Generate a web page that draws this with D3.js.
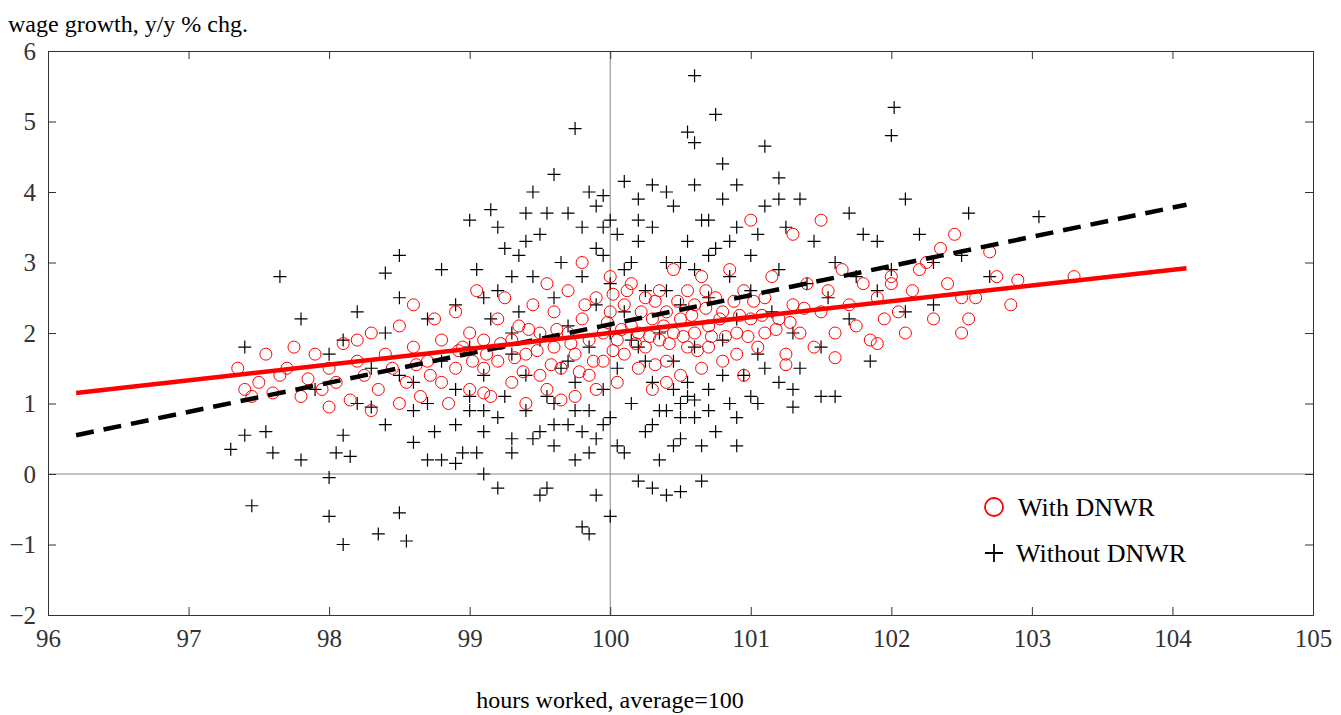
<!DOCTYPE html>
<html><head><meta charset="utf-8">
<script src="https://cdn.jsdelivr.net/npm/d3@7/dist/d3.min.js"></script>
<style>body{margin:0;background:#fff}text{font-family:"Liberation Serif","Times New Roman",serif}</style>
</head><body><svg id="c" width="1341" height="715"></svg>
<script>
// points: [hours, wage growth]
const withoutDNWR = [
[97.3,0.35],[97.4,0.55],[97.45,-0.45],[97.55,0.6],[97.6,0.3],[97.65,2.8],[97.4,1.8],[97.8,0.2],[97.8,2.2],[98.0,-0.05],[98.0,-0.6],[98.1,-1.0],[98.05,0.3],[98.15,0.25],[98.1,0.55],[98.35,-0.85],[98.5,-0.55],[98.55,-0.95],[98.4,2.85],[98.5,3.1],[98.3,0.95],[98.6,0.45],[98.7,0.2],[98.8,0.2],[98.9,0.15],[98.95,0.3],[99.1,0.0],[99.0,3.6],[99.15,3.75],[99.2,-0.2],[99.3,0.3],[99.35,3.1],[99.4,3.7],[99.45,4.0],[99.5,-0.3],[99.55,-0.2],[99.6,4.25],[99.7,3.7],[99.75,4.9],[99.8,-0.75],[99.85,-0.85],[99.9,-0.3],[100.0,-0.6],[99.95,3.95],[100.1,4.15],[100.2,-0.1],[100.3,-0.2],[100.4,-0.3],[100.5,-0.25],[100.55,4.85],[100.6,5.65],[100.6,4.7],[100.65,-0.1],[100.75,5.1],[100.8,4.4],[101.1,4.65],[101.2,4.2],[101.35,3.9],[101.7,3.7],[101.9,3.3],[102.0,4.8],[102.02,5.2],[102.1,3.9],[102.2,3.4],[102.55,3.7],[103.05,3.65],[101.6,1.1],[101.3,0.95],[101.0,1.1],[100.9,0.4],[102.3,2.4],[101.85,1.6],
[98.6,1.3],[98.7,1.0],[98.8,1.6],[98.9,1.2],[98.9,2.4],[99.0,0.9],[99.0,1.8],[99.05,2.9],[99.1,0.6],[99.1,1.4],[99.15,2.2],[99.2,0.8],[99.2,2.6],[99.25,1.1],[99.25,3.2],[99.3,0.5],[99.3,1.7],[99.35,2.3],[99.4,0.9],[99.4,1.4],[99.45,2.8],[99.5,0.6],[99.5,1.9],[99.5,3.4],[99.55,1.1],[99.6,0.4],[99.6,2.5],[99.65,1.5],[99.65,3.0],[99.7,0.7],[99.7,2.1],[99.75,0.2],[99.75,1.3],[99.8,2.8],[99.8,3.5],[99.85,0.9],[99.85,1.8],[99.9,0.5],[99.9,2.4],[99.9,3.8],[99.95,1.2],[99.95,3.1],[100.0,0.8],[100.0,2.0],[100.0,2.7],[100.05,1.5],[100.05,3.4],[100.1,0.3],[100.1,2.3],[100.15,1.0],[100.15,3.0],[100.2,1.8],[100.2,3.9],[100.25,0.6],[100.25,2.6],[100.3,1.3],[100.3,3.5],[100.35,0.2],[100.35,2.0],[100.4,0.9],[100.4,3.0],[100.45,1.6],[100.45,3.8],[100.5,0.5],[100.5,2.4],[100.5,1.0],[100.55,3.3],[100.6,0.8],[100.6,1.8],[100.6,2.9],[100.65,3.6],[100.7,1.2],[100.7,2.5],[100.75,0.6],[100.75,3.2],[100.8,1.9],[100.8,3.9],[100.85,1.0],[100.85,2.8],[100.9,2.2],[100.9,3.5],[100.95,1.4],[101.0,2.6],[101.0,3.1],[101.05,1.7],[101.1,3.8],[101.15,2.3],[101.2,1.3],[101.2,2.9],[101.25,3.5],[101.3,2.0],[101.35,1.5],[101.4,2.7],[101.45,3.3],[101.5,1.8],[101.55,2.5],[101.6,3.0],[101.7,2.2],[101.75,2.8],[101.8,3.4],[101.9,2.6],[102.0,2.9],[102.1,2.3],[102.3,3.0],[102.5,3.1],[102.7,2.8],[97.9,1.2],[98.0,1.7],[98.1,1.9],[98.2,1.0],[98.2,2.3],[98.3,1.5],[98.4,0.7],[98.4,2.0],[98.5,1.4],[98.5,2.5],[98.6,0.9],[98.7,2.2],[98.75,0.6],[98.8,2.9],[99.0,1.1],[99.05,0.3],[99.1,2.5],[99.3,2.0],[99.4,3.3],[99.45,0.5],[99.6,1.0],[99.7,1.6],[99.8,0.6],[99.95,0.7],[100.05,0.4],[100.15,1.9],[100.25,1.6],[100.35,0.9],[100.45,0.4],[100.55,1.3],[100.65,0.4],[100.7,0.9],[100.8,1.4],[100.9,0.8],[101.05,1.0],[101.1,1.5],[101.3,1.2],[101.5,1.1],[100.3,4.1],[100.0,3.6],[99.85,4.0],[100.4,4.0],[100.6,4.1],[100.9,4.1],[101.2,3.9],[100.7,3.6],[99.3,2.8],[99.55,3.7],[99.2,3.5],
[99.9,3.2],[100.1,2.9],[100.2,3.3],[100.4,2.6],[100.5,3.0],[100.7,3.1],[100.3,0.7],[100.5,0.8],[100.55,1.1],[100.6,1.05],[100.45,1.2],[99.75,0.9],[99.85,0.3],[99.6,0.7],[99.1,0.9],[98.9,0.7],[99.95,3.5],[100.2,3.6],[100.85,3.3],[101.05,3.4]
];
const withDNWR = [
[97.35,1.5],[97.4,1.2],[97.45,1.1],[97.5,1.3],[97.55,1.7],[97.6,1.15],[97.7,1.5],[97.75,1.8],[97.8,1.1],[97.85,1.35],[97.9,1.7],[97.95,1.2],[98.0,1.5],[98.0,0.95],[98.05,1.3],[98.1,1.85],[98.15,1.05],[98.2,1.6],[98.25,1.4],[98.3,2.0],[98.3,0.9],[98.35,1.2],[98.4,1.7],[98.45,1.5],[98.5,2.1],[98.5,1.0],[98.55,1.3],[98.6,1.8],[98.6,2.4],[98.65,1.1],[98.7,1.6],[98.75,2.2],[98.8,1.3],[98.8,1.9],[98.85,1.0],[98.9,1.5],[98.9,2.3],[98.95,1.8],[99.0,1.2],[99.0,2.0],[99.05,2.6],[99.1,1.5],[99.1,1.9],[99.15,1.1],[99.2,2.2],[99.2,1.6],[99.25,2.5],[99.3,1.3],[99.3,1.9],[99.35,2.1],[99.4,1.0],[99.4,1.7],[99.45,2.4],[99.5,1.4],[99.5,2.0],[99.55,2.7],[99.55,1.2],[99.6,1.8],[99.6,2.3],[99.65,1.5],[99.7,2.0],[99.7,2.6],[99.75,1.1],[99.75,1.7],[99.8,2.2],[99.8,3.0],[99.85,1.4],[99.85,1.9],[99.9,2.5],[99.9,1.2],[99.95,2.0],[99.95,1.6],[100.0,2.3],[100.0,2.8],[100.05,1.3],[100.05,1.9],[100.1,2.4],[100.1,1.7],[100.15,2.1],[100.15,2.7],[100.2,1.5],[100.2,2.0],[100.25,2.5],[100.25,1.8],[100.3,2.2],[100.3,1.2],[100.35,2.6],[100.35,1.9],[100.4,2.3],[100.4,1.6],[100.45,2.0],[100.45,2.9],[100.5,1.4],[100.5,2.2],[100.55,2.6],[100.55,1.8],[100.6,2.0],[100.6,2.4],[100.65,1.5],[100.65,2.8],[100.7,2.1],[100.7,1.8],[100.75,2.5],[100.8,1.6],[100.8,2.3],[100.85,2.9],[100.9,2.0],[100.9,1.7],[100.95,2.6],[101.0,2.2],[101.0,3.6],[101.05,1.8],[101.1,2.5],[101.1,2.0],[101.15,2.8],[101.2,2.2],[101.25,1.7],[101.3,2.4],[101.3,3.4],[101.35,2.0],[101.4,2.7],[101.45,1.8],[101.5,2.3],[101.5,3.6],[101.55,2.6],[101.6,2.0],[101.65,2.9],[101.7,2.4],[101.75,2.1],[101.8,2.7],[101.85,1.9],[101.9,2.5],[101.95,2.2],[102.0,2.8],[102.05,2.3],[102.1,2.0],[102.15,2.6],[102.2,2.9],[102.3,2.2],[102.35,3.2],[102.4,2.7],[102.45,3.4],[102.5,2.5],[102.55,2.2],[102.6,2.5],[102.75,2.8],[102.85,2.4],[102.9,2.75],[103.3,2.8],[102.7,3.15],[101.25,1.55],[100.95,1.4],[100.4,1.3],[99.65,1.05],[99.1,1.15],[98.2,1.9],[97.65,1.4],[101.6,1.65],[101.9,1.85],[102.5,2.0],[102.25,3.0],[102.0,2.7],
[99.62,2.05],[99.72,1.85],[99.82,2.4],[99.88,1.6],[99.98,2.15],[100.02,1.75],[100.08,2.05],[100.12,2.6],[100.18,1.85],[100.22,2.3],[100.28,1.95],[100.32,2.45],[100.38,2.1],[100.42,1.85],[100.48,2.45],[100.52,1.95],[100.58,2.25],[100.62,1.75],[100.68,2.35],[100.72,1.95],[100.78,2.2],[100.82,1.95],[100.88,2.45],[100.92,2.25],[100.98,1.95],[101.02,2.45],[101.08,2.25],[101.18,2.05],[101.28,2.15],[101.38,2.35],[99.32,1.65],[99.42,2.05],[99.48,1.75],[99.58,1.55],[99.22,1.85],[99.12,1.7],[99.02,1.6],[98.92,1.75],[98.72,1.4],[98.62,1.55],[99.38,1.45],[99.78,1.45],[100.32,1.55],[100.68,2.6],[100.02,2.55]
];
const fitWith = [[96.2,1.15],[104.1,2.92]];
const fitWithout = [[96.2,0.55],[104.1,3.82]];
const xTicks = [96,97,98,99,100,101,102,103,104,105];
const yTicks = [-2,-1,0,1,2,3,4,5,6];

const svg = d3.select("#c");
const L=48,R=1313,T=51,B=615;
const x = d3.scaleLinear().domain([96,105]).range([L,R]);
const y = d3.scaleLinear().domain([-2,6]).range([B,T]);

// reference lines
svg.append("line").attr("x1",x(100)).attr("x2",x(100)).attr("y1",T).attr("y2",B).attr("stroke","#888");
svg.append("line").attr("x1",L).attr("x2",R).attr("y1",y(0)).attr("y2",y(0)).attr("stroke","#888");

// axes with inward ticks
const fmt = d3.format("d");
svg.append("g").attr("transform",`translate(0,${B})`).call(d3.axisBottom(x).tickValues(xTicks).tickSize(-8).tickPadding(14).tickFormat(fmt));
svg.append("g").attr("transform",`translate(0,${T})`).call(d3.axisTop(x).tickValues(xTicks).tickSize(-8).tickFormat(""));
svg.append("g").attr("transform",`translate(${L},0)`).call(d3.axisLeft(y).tickValues(yTicks).tickSize(-8).tickPadding(12).tickFormat(fmt));
svg.append("g").attr("transform",`translate(${R},0)`).call(d3.axisRight(y).tickValues(yTicks).tickSize(-8).tickFormat(""));
svg.selectAll(".domain").attr("stroke","#333");
svg.selectAll(".tick line").attr("stroke","#333");
svg.selectAll(".tick text").attr("font-size",25).attr("fill","#333").style("font-family","Liberation Serif");

// without DNWR: plus markers
const s=6.5;
svg.append("g").selectAll("path").data(withoutDNWR).join("path")
  .attr("d",d=>`M${x(d[0])-s},${y(d[1])}h${2*s}M${x(d[0])},${y(d[1])-s}v${2*s}`)
  .attr("stroke","#000").attr("stroke-width",1.2);
// with DNWR: red circles
svg.append("g").selectAll("circle").data(withDNWR).join("circle")
  .attr("cx",d=>x(d[0])).attr("cy",d=>y(d[1])).attr("r",6)
  .attr("fill","none").attr("stroke","#f00").attr("stroke-width",1);

const line = d3.line().x(d=>x(d[0])).y(d=>y(d[1]));
svg.append("path").attr("d",line(fitWithout)).attr("stroke","#000").attr("stroke-width",4.5).attr("stroke-dasharray","18,10").attr("fill","none");
svg.append("path").attr("d",line(fitWith)).attr("stroke","#f00").attr("stroke-width",4.5).attr("fill","none");

// legend
svg.append("rect").attr("x",975).attr("y",485).attr("width",260).attr("height",95).attr("fill","#fff");
svg.append("circle").attr("cx",994).attr("cy",507).attr("r",9).attr("fill","none").attr("stroke","#f00").attr("stroke-width",1.8);
svg.append("text").attr("x",1018).attr("y",516).attr("font-size",26).text("With DNWR");
svg.append("path").attr("d","M985,553h18M994,544v18").attr("stroke","#000").attr("stroke-width",1.8);
svg.append("text").attr("x",1016).attr("y",562).attr("font-size",26).text("Without DNWR");

svg.append("text").attr("x",8).attr("y",32).attr("font-size",24).text("wage growth, y/y % chg.");
svg.append("text").attr("x",610).attr("y",708).attr("text-anchor","middle").attr("font-size",24).text("hours worked, average=100");
</script></body></html>
